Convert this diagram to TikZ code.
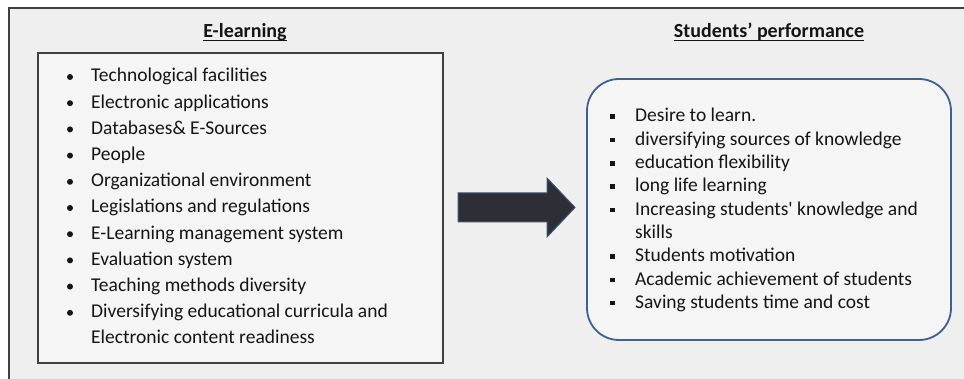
\documentclass[tikz,border=0pt]{standalone}
\usepackage{fontspec}
\setmainfont{Carlito}
\usetikzlibrary{calc}
\newcommand{\straightapos}{{\addfontfeature{Ligatures=TeXOff}'}}
\definecolor{bgray}{HTML}{EFEFEF}
\definecolor{boxfill}{HTML}{F5F5F5}
\definecolor{boxline}{HTML}{404040}
\definecolor{rbline}{HTML}{3F6190}
\definecolor{arrfill}{HTML}{2E2F36}
\definecolor{arrline}{HTML}{3B5577}
\definecolor{txt}{HTML}{151515}
\tikzset{
  titletext/.style={inner sep=0pt, anchor=base, font=\fontsize{20}{24}\selectfont\bfseries, text=txt},
  itemtext/.style={inner sep=0pt, anchor=base west, font=\fontsize{19.5}{23}\selectfont, text=txt},
  leftbox/.style={draw=boxline, line width=1.2pt, fill=boxfill},
  rightbox/.style={draw=rbline, line width=1.8pt, fill=boxfill, rounded corners=32pt},
  bigarrow/.style={fill=arrfill, draw=arrline, line width=1pt},
}
\begin{document}
\begin{tikzpicture}[x=1pt,y=-1pt]
\useasboundingbox (0,0) rectangle (964,379);
\fill[white] (0,0) rectangle (964,379);
% outer panel
\fill[bgray] (9,8) rectangle (964,379);
\draw[line width=1.6pt, boxline] (9,379) -- (9,8) -- (964,8);
% titles
\node[titletext] (t1) at (245,37.5) {E-learning};
\draw[line width=1pt, txt] ($(t1.base west)+(0,3.5)$) -- ($(t1.base east)+(0,3.5)$);
\node[titletext] (t2) at (769,37.5) {Students’ performance};
\draw[line width=1pt, txt] ($(t2.base west)+(0,3.5)$) -- ($(t2.base east)+(0,3.5)$);
% boxes
\draw[leftbox] (38,53) rectangle (443,363);
\coordinate (lbE) at (443,208);
\draw[rightbox] (587,79) rectangle (951,340);
\coordinate (rbW) at (587,208);
% left items
\foreach \t [count=\i from 0] in {Technological facilities,Electronic applications,Databases\& E-Sources,People,Organizational environment,Legislations and regulations,E-Learning management system,Evaluation system,Teaching methods diversity,Diversifying educational curricula and}{
  \node[itemtext] (l\i) at (91,{82+26.2*\i}) {\t};
  \fill[txt] (70,{82+26.2*\i-5}) circle (3pt);
}
\node[itemtext] (l10) at (91,{82+26.2*10}) {Electronic content readiness};
% right items
\foreach \t/\b [count=\i from 0] in {Desire to learn./1,diversifying sources of knowledge/1,education flexibility/1,long life learning/1,Increasing students\straightapos{} knowledge and/1,skills/0,Students motivation/1,Academic achievement of students/1,Saving students time and cost/1}{
  \node[itemtext] (r\i) at (635,{122+23.3*\i}) {\t};
  \ifnum\b=1 \fill[txt] ($(610,{122+23.3*\i-7.5})$) rectangle ++(4.5,4.5);\fi
}
% arrow
\draw[bigarrow] (458,193) -- (547,193) -- (547,178) -- (575,207.5) -- (547,237) -- (547,222) -- (458,222) -- cycle;
\end{tikzpicture}
\end{document}
